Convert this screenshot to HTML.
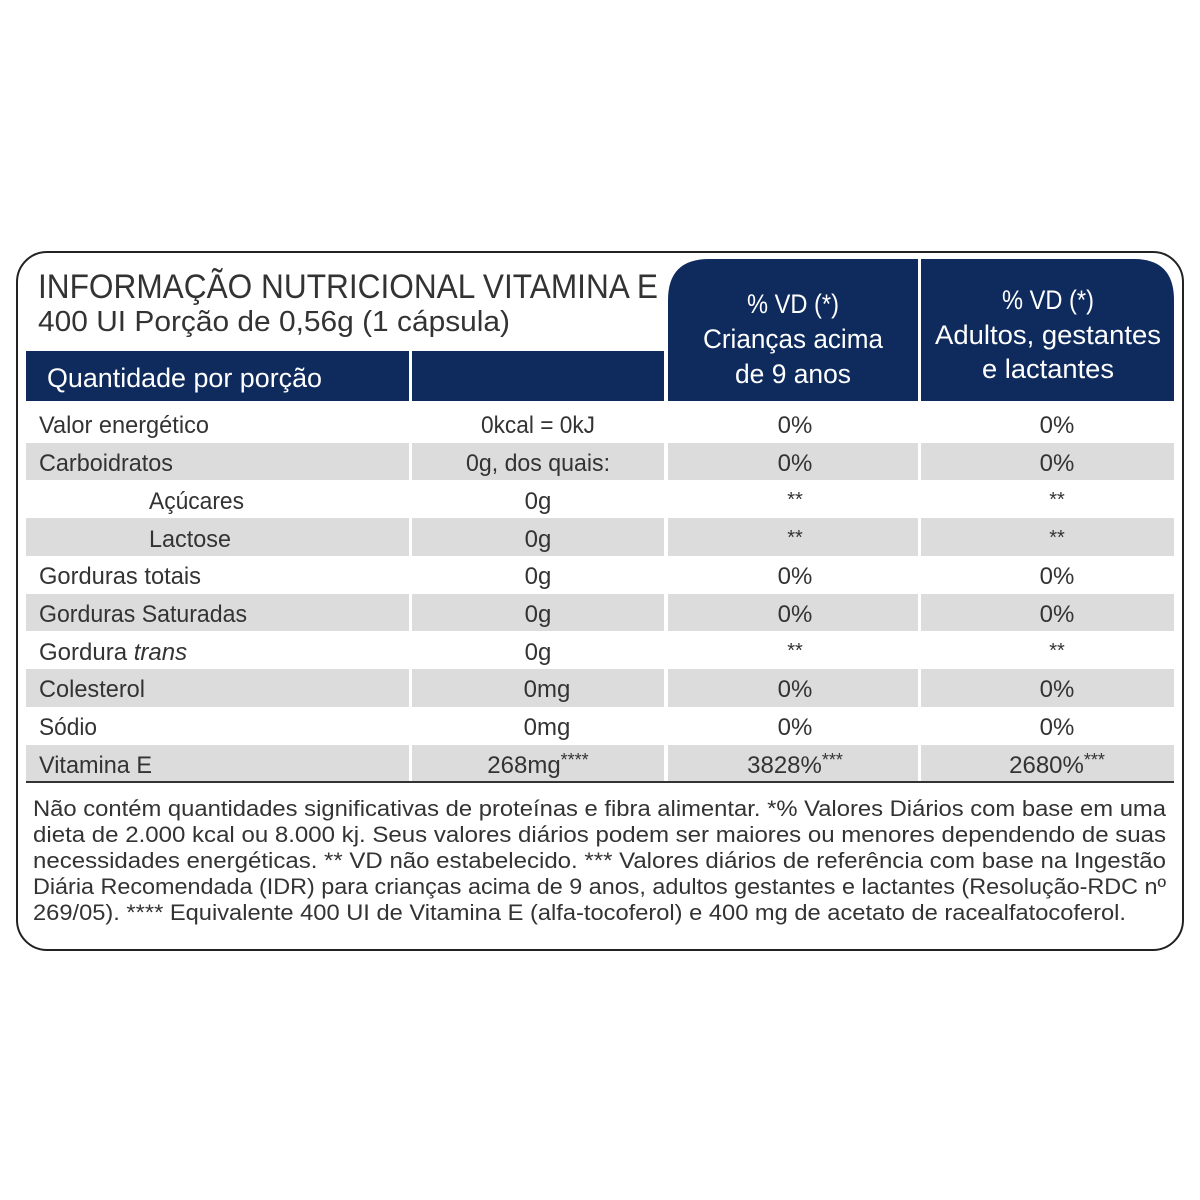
<!DOCTYPE html>
<html><head><meta charset="utf-8"><style>
html,body{margin:0;padding:0;background:#fff;width:1200px;height:1200px;overflow:hidden}
svg{display:block}
text{font-family:"Liberation Sans",sans-serif}
</style></head><body>
<svg width="1200" height="1200" viewBox="0 0 1200 1200" xmlns="http://www.w3.org/2000/svg">
<rect x="17" y="252" width="1166" height="698" rx="30" fill="#fff" stroke="#222" stroke-width="2"/>
<rect x="26" y="351" width="383" height="50" fill="#0f2b5e"/>
<rect x="412" y="351" width="252" height="50" fill="#0f2b5e"/>
<path d="M668 401 V300 Q668 259 709 259 H1134 Q1174 259 1174 300 V401 Z" fill="#0f2b5e"/>
<rect x="918" y="255" width="3" height="150" fill="#fff"/>
<g fill="#dcdcdc">
<rect x="26" y="443" width="1148" height="37"/>
<rect x="26" y="518" width="1148" height="38"/>
<rect x="26" y="594" width="1148" height="37"/>
<rect x="26" y="669" width="1148" height="38"/>
<rect x="26" y="745" width="1148" height="37"/>
</g>
<g fill="#fff">
<rect x="409" y="401" width="3" height="381"/>
<rect x="664" y="401" width="4" height="381"/>
<rect x="918" y="401" width="3" height="381"/>
</g>
<rect x="26" y="781" width="1148" height="2" fill="#333"/>
<text x="38" y="298" font-size="34" fill="#333" textLength="620" lengthAdjust="spacingAndGlyphs">INFORMAÇÃO NUTRICIONAL VITAMINA E</text>
<text x="38" y="331" font-size="29" fill="#333" textLength="472" lengthAdjust="spacingAndGlyphs">400 UI Porção de 0,56g (1 cápsula)</text>
<text x="47" y="387" font-size="27" fill="#fff" textLength="275" lengthAdjust="spacingAndGlyphs">Quantidade por porção</text>
<g fill="#fff" font-size="27" text-anchor="middle">
<text x="793" y="313" textLength="92" lengthAdjust="spacingAndGlyphs">% VD (*)</text>
<text x="793" y="348" textLength="180" lengthAdjust="spacingAndGlyphs">Crianças acima</text>
<text x="793" y="383" textLength="116" lengthAdjust="spacingAndGlyphs">de 9 anos</text>
<text x="1048" y="309" textLength="92" lengthAdjust="spacingAndGlyphs">% VD (*)</text>
<text x="1048" y="344" textLength="226" lengthAdjust="spacingAndGlyphs">Adultos, gestantes</text>
<text x="1048" y="378" textLength="132" lengthAdjust="spacingAndGlyphs">e lactantes</text>
</g>
<g fill="#333" font-size="24">
<text x="39" y="433" textLength="170" lengthAdjust="spacingAndGlyphs">Valor energético</text>
<text x="39" y="471" textLength="134" lengthAdjust="spacingAndGlyphs">Carboidratos</text>
<text x="149" y="509" textLength="95" lengthAdjust="spacingAndGlyphs">Açúcares</text>
<text x="149" y="547" textLength="82" lengthAdjust="spacingAndGlyphs">Lactose</text>
<text x="39" y="584" textLength="162" lengthAdjust="spacingAndGlyphs">Gorduras totais</text>
<text x="39" y="622" textLength="208" lengthAdjust="spacingAndGlyphs">Gorduras Saturadas</text>
<text x="39" y="660">Gordura <tspan font-style="italic">trans</tspan></text>
<text x="39" y="697" textLength="106" lengthAdjust="spacingAndGlyphs">Colesterol</text>
<text x="39" y="735" textLength="58" lengthAdjust="spacingAndGlyphs">Sódio</text>
<text x="39" y="773" textLength="113" lengthAdjust="spacingAndGlyphs">Vitamina E</text>
</g>
<g fill="#333" font-size="24" text-anchor="middle">
<text x="538" y="433" textLength="114" lengthAdjust="spacingAndGlyphs">0kcal = 0kJ</text>
<text x="538" y="471" textLength="144" lengthAdjust="spacingAndGlyphs">0g, dos quais:</text>
<text x="538" y="509">0g</text><text x="538" y="547">0g</text><text x="538" y="584">0g</text>
<text x="538" y="622">0g</text><text x="538" y="660">0g</text>
<text x="547" y="697">0mg</text><text x="547" y="735">0mg</text>
<text x="538" y="773">268mg<tspan font-size="18" dy="-7">****</tspan></text>
<text x="795" y="433">0%</text><text x="795" y="471">0%</text>
<text x="795" y="506" font-size="20">**</text><text x="795" y="544" font-size="20">**</text>
<text x="795" y="584">0%</text><text x="795" y="622">0%</text>
<text x="795" y="657" font-size="20">**</text>
<text x="795" y="697">0%</text><text x="795" y="735">0%</text>
<text x="795" y="773">3828%<tspan font-size="18" dy="-7">***</tspan></text>
<text x="1057" y="433">0%</text><text x="1057" y="471">0%</text>
<text x="1057" y="506" font-size="20">**</text><text x="1057" y="544" font-size="20">**</text>
<text x="1057" y="584">0%</text><text x="1057" y="622">0%</text>
<text x="1057" y="657" font-size="20">**</text>
<text x="1057" y="697">0%</text><text x="1057" y="735">0%</text>
<text x="1057" y="773">2680%<tspan font-size="18" dy="-7">***</tspan></text>
</g>
<g fill="#333" font-size="22">
<text x="33" y="816" textLength="1133" lengthAdjust="spacingAndGlyphs">Não contém quantidades significativas de proteínas e fibra alimentar. *% Valores Diários com base em uma</text>
<text x="33" y="842" textLength="1133" lengthAdjust="spacingAndGlyphs">dieta de 2.000 kcal ou 8.000 kj. Seus valores diários podem ser maiores ou menores dependendo de suas</text>
<text x="33" y="868" textLength="1133" lengthAdjust="spacingAndGlyphs">necessidades energéticas. ** VD não estabelecido. *** Valores diários de referência com base na Ingestão</text>
<text x="33" y="894" textLength="1133" lengthAdjust="spacingAndGlyphs">Diária Recomendada (IDR) para crianças acima de 9 anos, adultos gestantes e lactantes  (Resolução-RDC nº</text>
<text x="33" y="920" textLength="1093" lengthAdjust="spacingAndGlyphs">269/05). **** Equivalente 400 UI de Vitamina E (alfa-tocoferol) e 400 mg de acetato de racealfatocoferol.</text>
</g>
</svg>
</body></html>
